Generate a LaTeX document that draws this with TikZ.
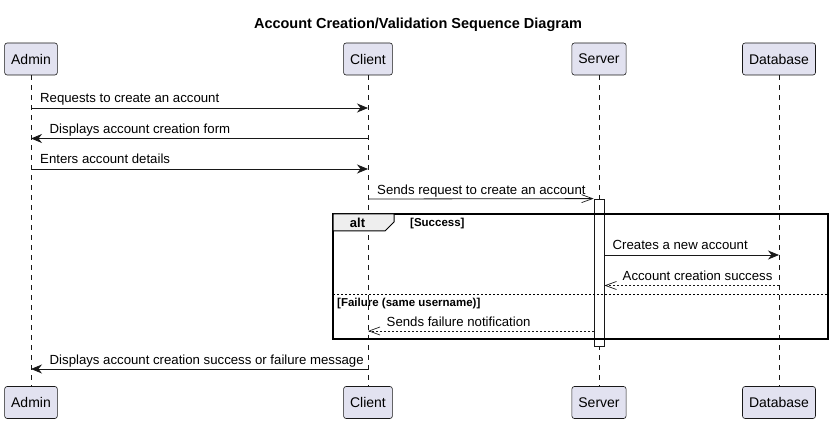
\documentclass[tikz,border=0pt]{standalone}
\usepackage{fontspec}
\setmainfont{Liberation Sans}
\usetikzlibrary{arrows.meta,positioning,calc}

\definecolor{partfill}{HTML}{E2E2F0}
\definecolor{partline}{HTML}{181818}
\definecolor{tabfill}{HTML}{EEEEEE}

\tikzset{
    participant/.style={draw=partline, fill=partfill, rounded corners=2.5pt, line width=0.6pt,
        minimum height=32pt, inner xsep=6.5pt, font=\fontsize{14}{16}\selectfont},
    lifeline/.style={draw=partline, line width=0.5pt, dash pattern=on 5pt off 5pt},
    activation/.style={draw=partline, fill=white, line width=0.8pt, inner sep=0pt,
        minimum width=10pt, minimum height=147pt},
    msg/.style={draw=partline, line width=0.8pt, -{Stealth[length=11pt,width=9pt,inset=3.5pt]}},
    sendopen/.style={draw=partline, line width=0.8pt, -{Straight Barb[length=11pt,width=8pt,line width=0.7pt]}},
    reply/.style={sendopen, dash pattern=on 2pt off 2pt},
    msgtext/.style={font=\fontsize{13.2}{15}\selectfont, anchor=base west, inner sep=0pt},
    guard/.style={font=\bfseries\fontsize{11.5}{13}\selectfont, anchor=base west, inner sep=0pt},
}

\begin{document}
\begin{tikzpicture}[x=1pt, y=-1pt]
    \useasboundingbox (0,0) rectangle (833,422);

    % Title
    \node[font=\bfseries\fontsize{14.5}{16}\selectfont, anchor=base] (title) at (418,29)
        {Account Creation/Validation Sequence Diagram};

    % Participants and lifelines
    \foreach \name/\label/\x in {admin/Admin/31, client/Client/368, server/Server/599, db/Database/779} {
        \node[participant] (\name) at (\x,59) {\label};
        \node[participant] (\name-end) at (\x,402.5) {\label};
        \draw[lifeline] (\name) -- (\name-end);
    }

    % Server activation
    \node[activation] (act) at (599,272.5) {};

    % alt frame
    \draw[line width=1.5pt] (333,214) rectangle (828,339);
    \draw[line width=1pt, fill=tabfill] (333,214) -- (394,214) -- (394,222) -- (385,231) -- (333,231) -- cycle;
    \node[font=\bfseries\fontsize{13}{15}\selectfont, anchor=base, inner sep=0pt] (alt) at (357.5,228) {alt};
    \node[guard] (success) at (410,227) {[Success]};
    \draw[line width=0.8pt, dash pattern=on 2pt off 2pt] (333,294.5) -- (828,294.5);
    \node[guard] (failure) at (337,306) {[Failure (same username)]};

    % Messages
    \draw[msg] (admin |- 0,108) -- (client |- 0,108);
    \node[msgtext] (m1) at (40,103) {Requests to create an account};

    \draw[msg] (client |- 0,138.5) -- (admin |- 0,138.5);
    \node[msgtext] (m2) at (49.5,133.5) {Displays account creation form};

    \draw[msg] (admin |- 0,169) -- (client |- 0,169);
    \node[msgtext] (m3) at (40,164) {Enters account details};

    \draw[sendopen] (client |- 0,199) -- (act.north west);
    \node[msgtext] (m4) at (377,194.5) {Sends request to create an account};

    \draw[msg] (act.east |- 0,255) -- (db |- 0,255);
    \node[msgtext] (m5) at (612.5,250) {Creates a new account};

    \draw[reply] (db |- 0,285.5) -- (act.east |- 0,285.5);
    \node[msgtext] (m6) at (622.5,280.5) {Account creation success};

    \draw[reply] (act.west |- 0,331) -- (client |- 0,331);
    \node[msgtext] (m7) at (386.5,326) {Sends failure notification};

    \draw[msg] (client |- 0,369) -- (admin |- 0,369);
    \node[msgtext] (m8) at (49.5,364) {Displays account creation success or failure message};
\end{tikzpicture}
\end{document}
